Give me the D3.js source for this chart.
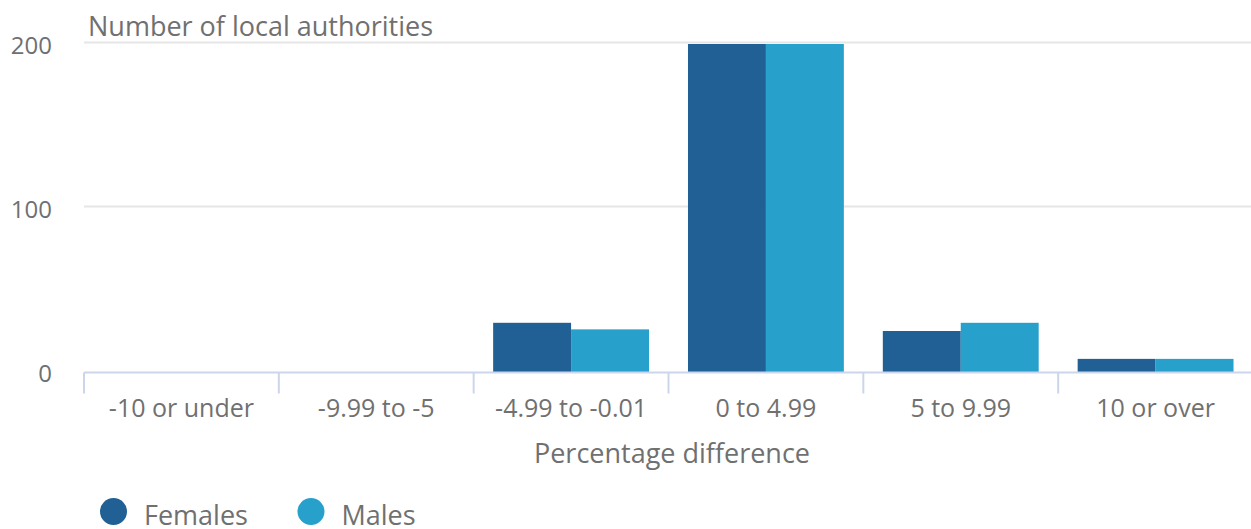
<!DOCTYPE html>
<html>
<head>
<meta charset="utf-8">
<script src="https://cdn.jsdelivr.net/npm/d3@7"></script>
<style>
  html, body { margin: 0; padding: 0; background: #fff; }
  svg { display: block; font-family: "Open Sans", sans-serif; }
</style>
</head>
<body>
<svg id="chart" width="1251" height="529"></svg>
<script>
// Percentage difference bands
const categories = ["-10 or under", "-9.99 to -5", "-4.99 to -0.01", "0 to 4.99", "5 to 9.99", "10 or over"];
const seriesNames = ["Females", "Males"];
const females = [0, 0, 30, 200, 25, 8];
const males = [0, 0, 26, 200, 30, 8];
const yTicks = [0, 100, 200];
const colors = ["#206095", "#27a0cc"];

const svg = d3.select("#chart");
const margin = { left: 84, right: -2, top: 44, bottom: 157 };
const W = 1251, H = 529;
const plotW = W - margin.left - margin.right;
const plotH = H - margin.top - margin.bottom;

const x = d3.scaleBand().domain(categories).range([margin.left, margin.left + plotW]).paddingInner(0).paddingOuter(0);
const x1 = d3.scaleBand().domain(seriesNames).range([0, x.bandwidth()]).paddingOuter(0.25).paddingInner(0);
const y = d3.scaleLinear().domain([0, 200]).range([margin.top + plotH, margin.top]);

const textColor = "#707070";

// Gridlines
svg.append("g").selectAll("line").data(yTicks.filter(d => d > 0)).join("line")
  .attr("x1", margin.left).attr("x2", W)
  .attr("y1", d => Math.round(y(d)) - 1.5).attr("y2", d => Math.round(y(d)) - 1.5)
  .attr("stroke", "#e6e6e6").attr("stroke-width", 2);

// Y tick labels
svg.append("g").selectAll("text").data(yTicks).join("text")
  .attr("x", 52).attr("y", d => y(d) + 9.5)
  .attr("text-anchor", "end")
  .attr("font-size", 24).attr("fill", textColor)
  .text(d => d);

// Y axis title
svg.append("text").attr("x", 88).attr("y", 36)
  .attr("font-size", 27).attr("fill", textColor)
  .text("Number of local authorities");

// Bars
const data = categories.map((c, i) => ({ cat: c, vals: [females[i], males[i]] }));
const groups = svg.append("g").selectAll("g").data(data).join("g")
  .attr("transform", d => `translate(${x(d.cat)},0)`);
groups.selectAll("rect").data(d => d.vals.map((v, j) => ({ name: seriesNames[j], v, j })))
  .join("rect")
  .attr("x", d => x1(d.name))
  .attr("width", x1.bandwidth())
  .attr("y", d => y(d.v))
  .attr("height", d => y(0) - y(d.v))
  .attr("fill", d => colors[d.j]);

// X axis line and ticks
const axisY = y(0) + 0.5;
svg.append("line").attr("x1", margin.left).attr("x2", W)
  .attr("y1", axisY).attr("y2", axisY)
  .attr("stroke", "#ccd6eb").attr("stroke-width", 2);
const bounds = categories.map(c => x(c)).concat([margin.left + plotW]);
svg.append("g").selectAll("line").data(bounds).join("line")
  .attr("x1", d => d).attr("x2", d => d)
  .attr("y1", axisY).attr("y2", axisY + 21)
  .attr("stroke", "#ccd6eb").attr("stroke-width", 2);

// X tick labels
svg.append("g").selectAll("text").data(categories).join("text")
  .attr("x", d => x(d) + x.bandwidth() / 2).attr("y", 416.5)
  .attr("text-anchor", "middle")
  .attr("font-size", 25).attr("fill", textColor)
  .text(d => d);

// X axis title
svg.append("text").attr("x", 672).attr("y", 463)
  .attr("text-anchor", "middle")
  .attr("font-size", 27).attr("fill", textColor)
  .text("Percentage difference");

// Legend
const legendX = [113.5, 311];
const lg = svg.append("g").selectAll("g").data(seriesNames).join("g")
  .attr("transform", (d, i) => `translate(${legendX[i]},511.5)`);
lg.append("circle").attr("r", 13.5).attr("fill", (d, i) => colors[i]);
lg.append("text").attr("x", 30.5).attr("y", 13.5)
  .attr("font-size", 27).attr("fill", textColor)
  .text(d => d);
</script>
</body>
</html>
